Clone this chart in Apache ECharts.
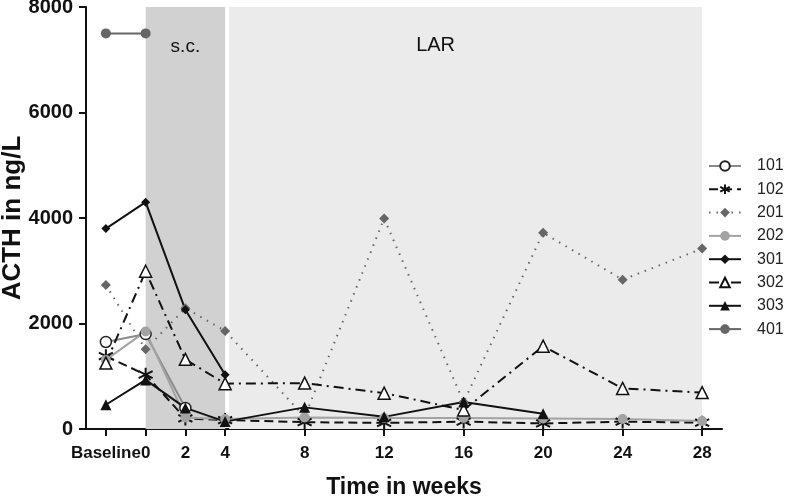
<!DOCTYPE html>
<html>
<head>
<meta charset="utf-8">
<script src="https://cdn.jsdelivr.net/npm/echarts@6/dist/echarts.min.js"></script>
<style>
html,body{margin:0;padding:0;background:#fff;}
#chart{width:786px;height:499px;}
</style>
</head>
<body>
<div id="chart"></div>
<script>
// Time points (Baseline plotted at week -2)
const weeks = [-2, 0, 2, 4, 8, 12, 16, 20, 24, 28];
const tickLabels = ['Baseline', '0', '2', '4', '8', '12', '16', '20', '24', '28'];
const yTicks = [0, 2000, 4000, 6000, 8000];

// ACTH in ng/L per patient
const s101 = [1650, 1800, 400, null, null, null, null, null, null, null];
const s102 = [1380, 1030, 200, 170, 130, 115, 140, 105, 140, 120];
const s201 = [2730, 1510, 2290, 1860, 230, 3990, 510, 3720, 2830, 3420];
const s202 = [1310, 1850, 220, 190, 220, 210, 210, 200, 190, 150];
const s301 = [3800, 4300, 2260, 1030, null, null, null, null, null, null];
const s302 = [1250, 2990, 1320, 860, 870, 680, 360, 1570, 770, 690];
const s303 = [460, 930, 400, 140, 410, 230, 510, 290, null, null];
const s401 = [7500, 7500, null, null, null, null, null, null, null, null];

const scPeriod = [0, 4];
const larPeriod = [4.2, 28];

const pairs = arr => weeks.map((w, i) => [w, arr[i]]);
const font = "'Liberation Sans', Arial, sans-serif";
const asterisk = 'path://M0,-10L0,10M-8.66,-5L8.66,5M-8.66,5L8.66,-5';

function mk(name, data, color, lineType, symbol, size, fill, border) {
  return {
    name: name, type: 'line', data: pairs(data), connectNulls: false,
    symbol: symbol, symbolSize: size, showSymbol: true,
    lineStyle: { color: color, width: 2, type: lineType },
    itemStyle: { color: fill, borderColor: border || fill, borderWidth: border ? 1.5 : 0, opacity: 1 },
    emphasis: { disabled: true },
    z: 3
  };
}

const series = [
  mk('101', s101, '#8a8a8a', 'solid', 'circle', 11, '#ffffff', '#222'),
  mk('102', s102, '#111', [9, 5], asterisk, 14, 'none', '#111'),
  mk('201', s201, '#666', [1.5, 6], 'diamond', 10, '#666'),
  mk('202', s202, '#a3a3a3', 'solid', 'circle', 10, '#a3a3a3'),
  mk('301', s301, '#111', 'solid', 'diamond', 9, '#111'),
  mk('302', s302, '#111', [10, 5, 2, 5], 'triangle', 12, '#ffffff', '#111'),
  mk('303', s303, '#111', 'solid', 'triangle', 11, '#111'),
  mk('401', s401, '#666', 'solid', 'circle', 10, '#666')
];
series[1].itemStyle = { color: 'rgba(0,0,0,0)', borderColor: '#111', borderWidth: 2 };

// shaded treatment periods
series.push({
  name: 'periods', type: 'line', data: [], silent: true, z: 1,
  markArea: {
    silent: true,
    data: [
      [{ xAxis: scPeriod[0], yAxis: 8000, itemStyle: { color: '#d1d1d1' },
         label: { show: true, position: 'insideTop', distance: 30, formatter: 's.c.', fontSize: 19, color: '#111', fontFamily: font } },
       { xAxis: scPeriod[1], yAxis: 0 }],
      [{ xAxis: larPeriod[0], yAxis: 8000, itemStyle: { color: '#ebebeb' },
         label: { show: true, position: 'insideTop', distance: 28, offset: [-30, 0], formatter: 'LAR', fontSize: 20, color: '#111', fontFamily: font } },
       { xAxis: larPeriod[1], yAxis: 0 }]
    ]
  }
});

const chart = echarts.init(document.getElementById('chart'), null, { renderer: 'canvas' });
chart.setOption({
  animation: false,
  backgroundColor: '#ffffff',
  grid: { left: 86, right: 64, top: 7, bottom: 70, containLabel: false, outerBoundsMode: 'none' },
  legend: {
    data: ['101', '102', '201', '202', '301', '302', '303', '401'],
    orient: 'vertical', left: 708, top: 157, padding: 0,
    itemWidth: 32, itemHeight: 12, itemGap: 5.3,
    textStyle: { fontSize: 16, color: '#222', fontFamily: font, padding: [0, 0, 0, 11], lineHeight: 18 }
  },
  xAxis: {
    type: 'value', min: -3, max: 29,
    name: 'Time in weeks', nameLocation: 'middle', nameGap: 47, nameMoveOverlap: false,
    nameTextStyle: { fontSize: 23, fontWeight: 'bold', color: '#111', fontFamily: font },
    axisLine: { onZero: false, lineStyle: { color: '#111', width: 2 } },
    axisTick: { show: true, length: 7, lineStyle: { color: '#111', width: 2 }, customValues: weeks },
    axisLabel: { customValues: weeks, hideOverlap: false, showMinLabel: true, fontSize: 17, fontWeight: 'bold', color: '#111', fontFamily: font, margin: 16,
      formatter: v => tickLabels[weeks.indexOf(v)] },
    splitLine: { show: false }
  },
  yAxis: {
    type: 'value', min: 0, max: 8000, interval: 2000,
    name: 'ACTH in ng/L', nameLocation: 'middle', nameGap: 60, nameMoveOverlap: false,
    nameTextStyle: { fontSize: 26, fontWeight: 'bold', color: '#111', fontFamily: font },
    axisLine: { show: true, onZero: false, lineStyle: { color: '#111', width: 2 } },
    axisTick: { show: true, length: 7, lineStyle: { color: '#111', width: 2 } },
    axisLabel: { fontSize: 20, fontWeight: 'bold', color: '#111', fontFamily: font, margin: 13,
      formatter: v => yTicks.includes(v) ? String(v) : '' },
    splitLine: { show: false }
  },
  series: series
});
</script>
</body>
</html>
